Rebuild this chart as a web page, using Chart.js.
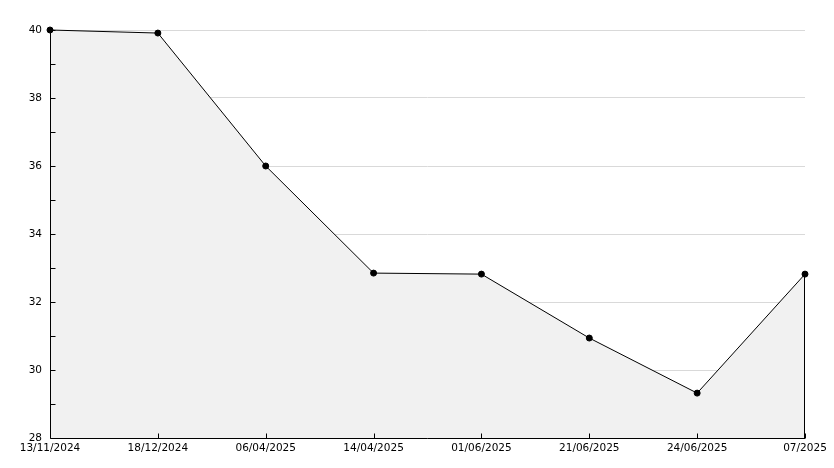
<!DOCTYPE html>
<html>
<head>
<meta charset="utf-8">
<script src="https://cdn.jsdelivr.net/npm/chart.js@4/dist/chart.umd.min.js"></script>
<style>
  html, body { margin: 0; padding: 0; background: #fff; }
  #wrap { width: 834px; height: 468px; }
</style>
</head>
<body>
<div id="wrap"><canvas id="c"></canvas></div>
<script>
// dates on the x axis (last one is cut in the original)
const dates = ['13/11/2024', '18/12/2024', '06/04/2025', '14/04/2025',
               '01/06/2025', '21/06/2025', '24/06/2025', '07/2025'];
const values = [40.0, 39.91, 36.0, 32.85, 32.82, 30.94, 29.32, 32.82];
const yMin = 28;
const yMax = 40;

// axis lines over the fill, inward tick marks, closing edge of the filled area
const innerTicks = {
  id: 'innerTicks',
  afterDatasetsDraw(chart) {
    const { ctx, chartArea, scales } = chart;
    ctx.save();
    ctx.strokeStyle = '#000';
    ctx.lineWidth = 1;
    ctx.beginPath();
    const left = Math.round(chartArea.left) + 0.5;
    const bottom = Math.round(chartArea.bottom) + 0.5;
    ctx.moveTo(left, chartArea.top);
    ctx.lineTo(left, bottom);
    ctx.lineTo(chartArea.right, bottom);
    for (const t of scales.y.ticks) {
      const y = Math.round(scales.y.getPixelForValue(t.value)) + 0.5;
      ctx.moveTo(left, y);
      ctx.lineTo(left + 5, y);
    }
    scales.x.ticks.forEach((t, i) => {
      if (i === 0) return;
      const x = Math.round(scales.x.getPixelForValue(i)) + 0.5;
      ctx.moveTo(x, bottom);
      ctx.lineTo(x, bottom - 5);
    });
    // right edge of the fill
    const pts = chart.getDatasetMeta(0).data;
    const last = pts[pts.length - 1];
    const lx = Math.round(last.x) - 0.5;
    ctx.moveTo(lx, last.y);
    ctx.lineTo(lx, bottom);
    ctx.stroke();
    ctx.restore();
  },
};

new Chart(document.getElementById('c'), {
  type: 'line',
  data: {
    labels: dates,
    datasets: [{
      data: values,
      borderColor: '#000',
      borderWidth: 1,
      backgroundColor: '#f1f1f1',
      fill: 'origin',
      tension: 0,
      clip: false,
      pointRadius: 3,
      pointStyle: 'circle',
      pointBackgroundColor: '#000',
      pointBorderColor: '#000',
      pointBorderWidth: 1,
    }],
  },
  options: {
    responsive: true,
    maintainAspectRatio: false,
    animation: false,
    layout: { padding: { top: 30, right: 29, left: 0, bottom: 0 } },
    plugins: { legend: { display: false }, tooltip: { enabled: false } },
    scales: {
      x: {
        type: 'category',
        offset: false,
        grid: { display: false, drawTicks: false },
        border: { display: false },
        ticks: {
          color: '#000',
          font: { family: 'DejaVu Sans', size: 10.5 },
          maxRotation: 0,
          autoSkip: false,
          padding: 4,
        },
        afterFit(s) { s.height = 30; },
      },
      y: {
        min: yMin,
        max: yMax,
        grid: {
          drawTicks: false,
          color: ctx => (ctx.tick && ctx.tick.value % 2 === 0 && ctx.tick.value !== yMin) ? '#d9d9d9' : 'rgba(0,0,0,0)',
        },
        border: { display: false },
        ticks: {
          stepSize: 1,
          color: '#000',
          font: { family: 'DejaVu Sans', size: 10.5 },
          padding: 8,
          callback: v => (v % 2 === 0 ? String(v) : ''),
        },
        afterFit(s) { s.width = 50; },
      },
    },
  },
  plugins: [innerTicks],
});
</script>
</body>
</html>
